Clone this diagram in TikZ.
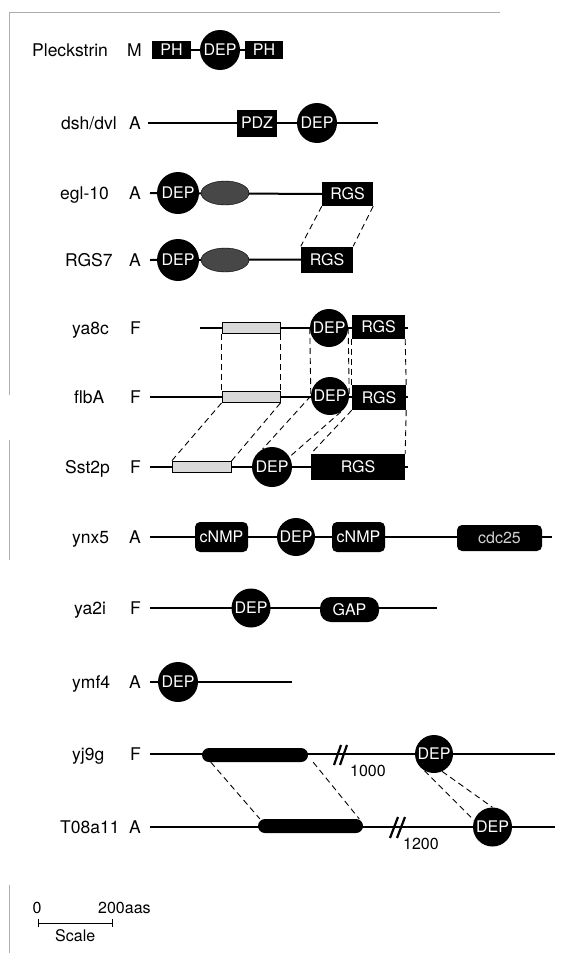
\documentclass[tikz,border=0pt]{standalone}
\usepackage{fontspec}
\setmainfont{TeX Gyre Heros}
\usetikzlibrary{shapes.geometric,backgrounds,calc}
\begin{document}
\begin{tikzpicture}[x=1pt,y=-1pt,
  bb/.style={line width=2pt},
  dl/.style={line width=0.9pt, dash pattern=on 6pt off 4pt},
  brk/.style={line width=2.2pt},
  dep/.style={circle, fill=black, text=white, inner sep=0pt, minimum size=39pt, font=\fontsize{16}{16}\selectfont},
  bx/.style={rectangle, fill=black, text=white, inner sep=0pt, font=\fontsize{16}{16}\selectfont},
  rbx/.style={bx, rounded corners=5pt},
  lbox/.style={rectangle, draw=black, line width=0.9pt, fill=black!15, inner sep=0pt, minimum height=11pt},
  ell/.style={ellipse, fill=black!72, draw=black, inner sep=0pt, minimum width=48pt, minimum height=24pt},
  bar/.style={rectangle, rounded corners=7pt, fill=black, inner sep=0pt, minimum height=14pt},
  lab/.style={anchor=base west, inner sep=0pt, font=\fontsize{17.5}{17.5}\selectfont},
  sml/.style={inner sep=0pt, font=\fontsize{16}{16}\selectfont},
]
\path[use as bounding box] (0,0) rectangle (565,953);

% frame remnants
\coordinate (fr0) at (9,12); \coordinate (fr1) at (500,12);
\coordinate (fl0) at (9,395); \coordinate (fl1) at (9,440); \coordinate (fl2) at (9,560);
\coordinate (fl3) at (9,885); \coordinate (fl4) at (9,953);
\draw[gray!65, line width=0.8pt] (fl0) -- (fr0) -- (fr1);
\draw[gray!65, line width=0.8pt] (fl1) -- (fl2);
\draw[gray!65, line width=0.8pt] (fl3) -- (fl4);

% ---- Pleckstrin
\node[lab] (nP) at (32,56) {Pleckstrin};
\node[lab] (tP) at (127,56) {M};
\node[bx, minimum width=39pt, minimum height=18pt] (pPH1) at (171.5,50) {PH};
\node[dep, minimum size=40pt] (pDEP) at (220,50) {DEP};
\node[bx, minimum width=38pt, minimum height=18pt] (pPH2) at (264,50) {PH};

% ---- dsh/dvl
\node[lab] (nD) at (61,129) {dsh/dvl};
\node[lab] (tD) at (129,129) {A};
\coordinate (dS) at (148,123); \coordinate (dE) at (378,123);
\node[bx, minimum width=40pt, minimum height=27pt] (dPDZ) at (257,123) {PDZ};
\node[dep, minimum size=40pt] (dDEP) at (317,123) {DEP};

% ---- egl-10
\node[lab] (nE) at (60,199) {egl-10};
\node[lab] (tE) at (129,199) {A};
\coordinate (eS) at (150,193);
\node[dep, minimum size=42pt] (eDEP) at (178,193) {DEP};
\node[ell] (eEll) at (225,193) {};
\node[bx, minimum width=51pt, minimum height=24pt] (eRGS) at (347.5,194) {RGS};

% ---- RGS7
\node[lab] (nR) at (65,266) {RGS7};
\node[lab] (tR) at (129,266) {A};
\coordinate (rS) at (150,260);
\node[dep, minimum size=42pt] (rDEP) at (178,260) {DEP};
\node[ell] (rEll) at (225,260) {};
\node[bx, minimum width=52pt, minimum height=26pt] (rRGS) at (327,259.5) {RGS};

% ---- ya8c
\node[lab] (nY) at (72,334) {ya8c};
\node[lab] (tY) at (130,334) {F};
\coordinate (yS) at (200,328); \coordinate (yE) at (408,328);
\node[lbox, minimum width=58pt] (yL) at (251,328) {};
\node[dep, minimum size=38pt] (yD) at (329,328) {DEP};
\node[bx, minimum width=53pt, minimum height=24pt] (yR) at (378.5,327) {RGS};

% ---- flbA
\node[lab] (nF) at (74,403) {flbA};
\node[lab] (tF) at (130,403) {F};
\coordinate (fS) at (150,397); \coordinate (fE) at (408,397);
\node[lbox, minimum width=58pt] (fL) at (251,397) {};
\node[dep, minimum size=38pt] (fD) at (330,396) {DEP};
\node[bx, minimum width=54pt, minimum height=25pt] (fR) at (379,397.5) {RGS};

% ---- Sst2p
\node[lab] (nS) at (65,473) {Sst2p};
\node[lab] (tS) at (130,473) {F};
\coordinate (sS) at (150,467); \coordinate (sE) at (408,467);
\node[lbox, minimum width=59pt] (sL) at (201.5,467) {};
\node[dep, minimum size=40pt] (sD) at (272,467) {DEP};
\node[bx, minimum width=94pt, minimum height=26pt] (sR) at (358,467) {RGS};

% ---- ynx5
\node[lab] (nX) at (72,543) {ynx5};
\node[lab] (tX) at (129,543) {A};
\coordinate (xS) at (150,537); \coordinate (xE) at (552,537);
\node[rbx, minimum width=53pt, minimum height=30pt] (xC1) at (221.5,537) {cNMP};
\node[dep, minimum size=38pt] (xD) at (296,537) {DEP};
\node[rbx, minimum width=53pt, minimum height=30pt] (xC2) at (358.5,537) {cNMP};
\node[rbx, minimum width=85pt, minimum height=26pt, text=white!82!black] (xCdc) at (499.5,538) {cdc25};

% ---- ya2i
\node[lab] (nA) at (74,614) {ya2i};
\node[lab] (tA) at (130,614) {F};
\coordinate (aS) at (150,608); \coordinate (aE) at (437,608);
\node[dep, minimum size=39pt] (aD) at (251,608) {DEP};
\node[bx, rounded corners=11pt, minimum width=59pt, minimum height=25pt] (aGAP) at (349.5,609.5) {GAP};

% ---- ymf4
\node[lab] (nM) at (72,688) {ymf4};
\node[lab] (tM) at (129,688) {A};
\coordinate (mS) at (150,682); \coordinate (mE) at (292,682);
\node[dep, minimum size=40pt] (mD) at (178,682) {DEP};

% ---- yj9g
\node[lab] (nJ) at (72,760) {yj9g};
\node[lab] (tJ) at (130,760) {F};
\coordinate (jS) at (150,754); \coordinate (jE) at (555,754);
\node[bar, minimum width=106pt] (jBar) at (255,755) {};
\node[dep, minimum size=38pt] (jD) at (434,754) {DEP};
\node[sml, anchor=base west] (j1000) at (350,776) {1000};
\coordinate (jb1a) at (334,765); \coordinate (jb1b) at (341,745);
\coordinate (jb2a) at (340,765); \coordinate (jb2b) at (347,745);

% ---- T08a11
\node[lab] (nT) at (60,833) {T08a11};
\node[lab] (tT) at (129,833) {A};
\coordinate (tS) at (150,827); \coordinate (tE) at (555,827);
\node[bar, minimum width=105pt] (tBar) at (310.5,826) {};
\node[dep, minimum size=39pt] (tDp) at (492.5,827) {DEP};
\node[sml, anchor=base west] (t1200) at (403,849) {1200};
\coordinate (tb1a) at (390,838); \coordinate (tb1b) at (398,817);
\coordinate (tb2a) at (397,838); \coordinate (tb2b) at (405,817);

% ---- scale
\node[sml, anchor=base] (sc0) at (37,913) {0};
\node[sml, anchor=base west] (sc200) at (98,913) {200aas};
\node[sml, anchor=base west] (scS) at (55,941) {Scale};
\coordinate (sb0) at (38,923); \coordinate (sb1) at (112,923);
\draw[line width=1pt] (sb0) -- (sb1);
\draw[line width=1pt] ($(sb0)+(0,-4)$) -- ($(sb0)+(0,4)$);
\draw[line width=1pt] ($(sb1)+(0,-4)$) -- ($(sb1)+(0,4)$);

\begin{pgfonlayer}{background}
  % backbones
  \draw[bb] (pPH1.east) -- (pPH2.west);
  \draw[bb] (dS) -- (dE);
  \draw[bb] (eS) -- (eRGS.west);
  \draw[bb] (rS) -- (rRGS.west);
  \draw[bb] (yS) -- (yE);
  \draw[bb] (fS) -- (fE);
  \draw[bb] (sS) -- (sE);
  \draw[bb] (xS) -- (xE);
  \draw[bb] (aS) -- (aE);
  \draw[bb] (mS) -- (mE);
  \draw[bb] (jS) -- (jE);
  \draw[bb] (tS) -- (tE);
  % break marks
  \draw[brk] (jb1a) -- (jb1b); \draw[brk] (jb2a) -- (jb2b);
  \draw[brk] (tb1a) -- (tb1b); \draw[brk] (tb2a) -- (tb2b);
  % dashed correspondences
  \draw[dl] (eRGS.south west) -- (rRGS.north west);
  \draw[dl] (eRGS.south east) -- (rRGS.north east);
  \draw[dl] (yL.south west) -- (fL.north west);
  \draw[dl] (yL.south east) -- (fL.north east);
  \draw[dl] (yD.west) -- (fD.west);
  \draw[dl] (yD.east) -- (fD.east);
  \draw[dl] (yR.south west) -- (fR.north west);
  \draw[dl] (yR.south east) -- (fR.north east);
  \draw[dl] (fL.south west) -- (sL.north west);
  \draw[dl] (fL.south east) -- (sL.north east);
  \draw[dl] (fD.west) -- (sD.118);
  \draw[dl] (fD.-55) -- (sD.30);
  \draw[dl] (fR.south west) -- (sR.north west);
  \draw[dl] (fR.south east) -- (sR.north east);
  \draw[dl] ($(jBar.south west)+(9,0)$) -- ($(tBar.north west)+(2,0)$);
  \draw[dl] ($(jBar.south east)+(5,0)$) -- ($(tBar.north east)+(-4,0)$);
  \draw[dl] (jD.240) -- (tDp.160);
  \draw[dl] (jD.295) -- (tDp.90);
\end{pgfonlayer}
\end{tikzpicture}
\end{document}
